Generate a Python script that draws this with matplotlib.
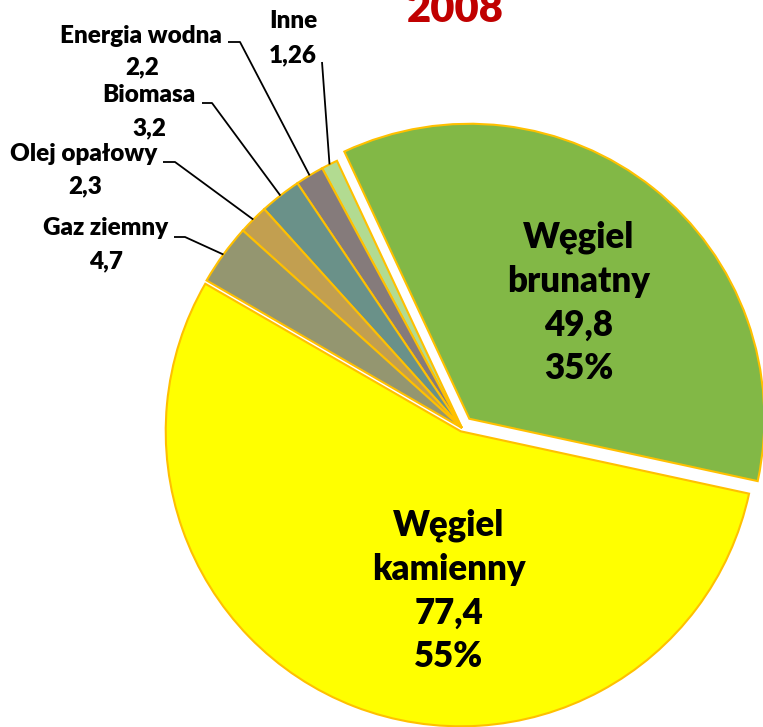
import numpy as np
import matplotlib
matplotlib.use("Agg")
import matplotlib.pyplot as plt

# ---- data ----
categories = ["Węgiel brunatny", "Inne", "Energia wodna", "Biomasa",
              "Olej opałowy", "Gaz ziemny", "Węgiel kamienny"]
values = [49.8, 1.26, 2.2, 3.2, 2.3, 4.7, 77.4]
value_labels = ["49,8", "1,26", "2,2", "3,2", "2,3", "4,7", "77,4"]
percent_labels = ["35%", None, None, None, None, None, "55%"]
title_text = "2008"

colors = ["#82B846", "#B2DB91", "#857B7B", "#6A9189", "#C29F50", "#949670", "#FFFF00"]

W, H = 763, 727
R = 295
explode = [0.04 * R, 0, 0, 0, 0, 0, 0.012 * R]

fig = plt.figure(figsize=(W / 100, H / 100), dpi=100)
ax = fig.add_axes([0, 0, 1, 1])

FONT = "Lato"
WEIGHT = "heavy"

def Y(y):
    return H - y

cx, cy = 462, Y(428)
wedges, _ = ax.pie(values, colors=colors, explode=explode, startangle=-12.2,
                   counterclock=True, center=(cx, cy), radius=R, frame=True,
                   wedgeprops=dict(edgecolor="#FFC000", linewidth=1.5))
ax.set_xlim(0, W)
ax.set_ylim(0, H)
ax.axis("off")

# big inside labels
big = dict(ha="center", va="center", fontsize=25, fontweight=WEIGHT,
           family=FONT, color="black", linespacing=1.39)
ax.text(579, Y(303), "Węgiel\nbrunatny\n" + value_labels[0] + "\n" + percent_labels[0], **big)
ax.text(449, Y(591), "Węgiel\nkamienny\n" + value_labels[6] + "\n" + percent_labels[6], **big)

small = dict(fontsize=17.5, fontweight=WEIGHT, family=FONT, color="black")
layout = {
    1: dict(nx=293, ny=28, nha="center", vx=293, vy=62, line=[(322, 62)]),
    2: dict(nx=222, ny=43, nha="right", vx=142, vy=74, line=[(228, 42), (240, 42)]),
    3: dict(nx=195, ny=102, nha="right", vx=149, vy=135, line=[(202, 103), (212, 103)]),
    4: dict(nx=157, ny=161, nha="right", vx=85, vy=193, line=[(163, 162), (175, 162)]),
    5: dict(nx=168, ny=235, nha="right", vx=106, vy=268, line=[(174, 237), (185, 237)]),
}
for i, L in layout.items():
    w = wedges[i]
    mid = np.deg2rad((w.theta1 + w.theta2) / 2)
    ex = w.center[0] + w.r * np.cos(mid)
    ey = w.center[1] + w.r * np.sin(mid)
    ax.text(L["nx"], Y(L["ny"]), categories[i], ha=L["nha"], va="baseline", **small)
    ax.text(L["vx"], Y(L["vy"]), value_labels[i], ha="center", va="baseline", **small)
    xs = [p[0] for p in L["line"]] + [ex]
    ys = [Y(p[1]) for p in L["line"]] + [ey]
    ax.plot(xs, ys, color="black", lw=1.3, solid_capstyle="butt")

ax.text(455, Y(22), title_text, ha="center", va="baseline", fontsize=30,
        fontweight=WEIGHT, family=FONT, color="#C00000")

fig.savefig("out.png", dpi=100)
